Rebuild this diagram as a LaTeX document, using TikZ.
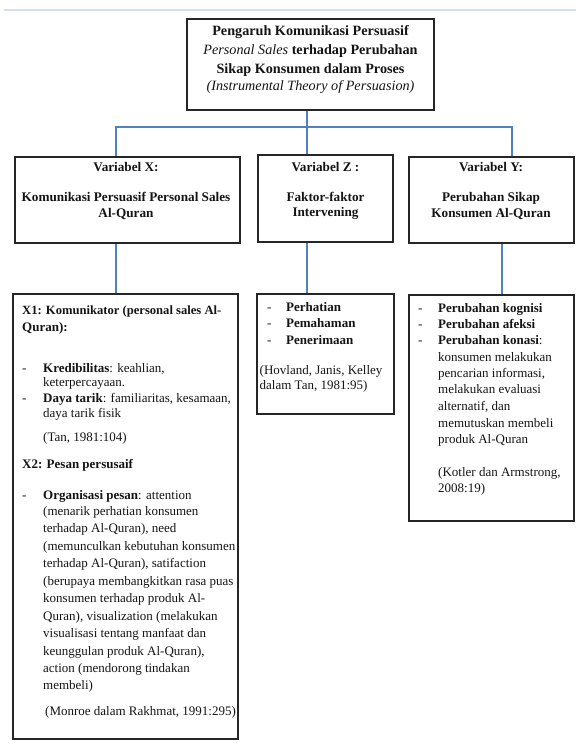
\documentclass[tikz,border=0pt]{standalone}
\usepackage{fontspec}
\setmainfont{Liberation Serif}
\usetikzlibrary{calc}
\definecolor{wirec}{RGB}{79,129,189}
\definecolor{toplinec}{RGB}{214,224,236}
\definecolor{ink}{RGB}{20,20,20}
\tikzset{
 box/.style={draw=black!85, line width=1.3pt, inner sep=0pt},
 wire/.style={draw=wirec, line width=1.1pt},
 tl/.style={inner sep=0pt, anchor=base, text=ink, font=\fontsize{14.2}{16}\selectfont\bfseries},
 tli/.style={inner sep=0pt, anchor=base, text=ink, font=\fontsize{14.2}{16}\selectfont\itshape},
 hd/.style={inner sep=0pt, anchor=base, text=ink, font=\fontsize{13.2}{15}\selectfont\bfseries},
 bt/.style={inner sep=0pt, anchor=base west, text=ink, font=\fontsize{13}{15}\selectfont},
 bb/.style={inner sep=0pt, anchor=base west, text=ink, font=\fontsize{13}{15}\selectfont\bfseries},
}
\begin{document}
\begin{tikzpicture}[x=1pt,y=-1pt]
\useasboundingbox (0,0) rectangle (576,743);
% faint top rule
\coordinate (r0) at (4,10);
\coordinate (r1) at (576,10);
\draw[draw=toplinec, line width=1.2pt] (r0) -- (r1);

% boxes
\node[box, minimum width=247pt, minimum height=91pt] (title) at (310.5,64.5) {};
\node[box, minimum width=225pt, minimum height=86pt] (vx) at (127.5,200) {};
\node[box, minimum width=135pt, minimum height=87pt] (vz) at (325.5,198.5) {};
\node[box, minimum width=165pt, minimum height=86pt] (vy) at (491.5,200) {};
\node[box, minimum width=225pt, minimum height=445pt] (bx) at (125.5,516.5) {};
\node[box, minimum width=137pt, minimum height=120pt] (bz) at (325.5,354) {};
\node[box, minimum width=165pt, minimum height=226pt] (by) at (491.5,408) {};

% connectors
\coordinate (jx) at (116,127);
\coordinate (jz) at (307,127);
\coordinate (jy) at (512,127);
\coordinate (ly) at (502,270);
\draw[wire] (jz |- title.south) -- (jz);
\draw[wire] (jx |- vx.north) -- (jx) -- (jy) -- (jy |- vy.north);
\draw[wire] (jz) -- (jz |- vz.north);
\draw[wire] (jx |- vx.south) -- (jx |- bx.north);
\draw[wire] (jz |- vz.south) -- (jz |- bz.north);
\draw[wire] (ly |- vy.south) -- (ly |- by.north);

% title text
\node[tl] (t1) at (310.5,36) {Pengaruh Komunikasi Persuasif};
\node[tl] (t2) at (310.5,55) {{\mdseries\itshape Personal Sales} terhadap Perubahan};
\node[tl] (t3) at (310.5,74) {Sikap Konsumen dalam Proses};
\node[tli] (t4) at (310.5,91) {(Instrumental Theory of Persuasion)};

% variable boxes
\node[hd] (x1) at (126,172) {Variabel X:};
\node[hd] (x2) at (126,201) {Komunikasi Persuasif Personal Sales};
\node[hd] (x3) at (126,218) {Al-Quran};
\node[hd] (z1) at (325.5,172) {Variabel Z :};
\node[hd] (z2) at (325.5,201) {Faktor-faktor};
\node[hd] (z3) at (325.5,217) {Intervening};
\node[hd] (y1) at (491,172) {Variabel Y:};
\node[hd] (y2) at (491,201) {Perubahan Sikap};
\node[hd] (y3) at (491,218) {Konsumen Al-Quran};

% X box content
\node[bb, font=\fontsize{12.6}{15}\selectfont\bfseries] (a1) at (22,314) {X1: Komunikator (personal sales Al-};
\node[bb] (a2) at (22,331) {Quran):};
\node[bt] (ad1) at (22,372) {-};
\node[bt] (a3) at (43,372) {\textbf{Kredibilitas}: keahlian,};
\node[bt] (a4) at (43,386) {keterpercayaan.};
\node[bt] (ad2) at (22,402) {-};
\node[bt] (a5) at (43,402) {\textbf{Daya tarik}: familiaritas, kesamaan,};
\node[bt] (a6) at (43,417) {daya tarik fisik};
\node[bt] (a7) at (43,441) {(Tan, 1981:104)};
\node[bb] (a8) at (22,468) {X2: Pesan persusaif};
\node[bt] (ad3) at (22,499) {-};
\node[bt] (b1) at (43,499) {\textbf{Organisasi pesan}: attention};
\node[bt] (b2) at (43,515) {(menarik perhatian konsumen};
\node[bt] (b3) at (43,532) {terhadap Al-Quran), need};
\node[bt] (b4) at (43,550) {(memunculkan kebutuhan konsumen};
\node[bt] (b5) at (43,567) {terhadap Al-Quran), satifaction};
\node[bt] (b6) at (43,585) {(berupaya membangkitkan rasa puas};
\node[bt] (b7) at (43,602) {konsumen terhadap produk Al-};
\node[bt] (b8) at (43,620) {Quran), visualization (melakukan};
\node[bt] (b9) at (43,637) {visualisasi tentang manfaat dan};
\node[bt] (b10) at (43,655) {keunggulan produk Al-Quran),};
\node[bt] (b11) at (43,672) {action (mendorong tindakan};
\node[bt] (b12) at (43,689) {membeli)};
\node[bt] (b13) at (45,715) {(Monroe dalam Rakhmat, 1991:295)};

% Z box content
\node[bt] (zd1) at (267,311) {-};
\node[bb] (c1) at (286,311) {Perhatian};
\node[bt] (zd2) at (267,327) {-};
\node[bb] (c2) at (286,327) {Pemahaman};
\node[bt] (zd3) at (267,344) {-};
\node[bb] (c3) at (286,344) {Penerimaan};
\node[bt] (c4) at (259.5,374) {(Hovland, Janis, Kelley};
\node[bt] (c5) at (259.5,389) {dalam Tan, 1981:95)};

% Y box content
\node[bt] (yd1) at (418,312) {-};
\node[bb] (e1) at (438,312) {Perubahan kognisi};
\node[bt] (yd2) at (418,328) {-};
\node[bb] (e2) at (438,328) {Perubahan afeksi};
\node[bt] (yd3) at (418,344) {-};
\node[bt] (e3) at (438,344) {\textbf{Perubahan konasi}:};
\node[bt] (e4) at (438,361) {konsumen melakukan};
\node[bt] (e5) at (438,377) {pencarian informasi,};
\node[bt] (e6) at (438,393) {melakukan evaluasi};
\node[bt] (e7) at (438,410) {alternatif, dan};
\node[bt] (e8) at (438,427) {memutuskan membeli};
\node[bt] (e9) at (438,443) {produk Al-Quran};
\node[bt] (e10) at (438,476) {(Kotler dan Armstrong,};
\node[bt] (e11) at (438,492) {2008:19)};
\end{tikzpicture}
\end{document}
